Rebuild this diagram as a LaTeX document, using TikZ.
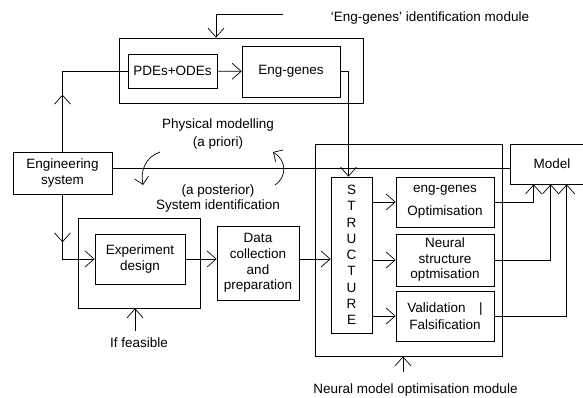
\documentclass[tikz,border=0pt]{standalone}
\usepackage{fontspec}
\setmainfont{Liberation Sans}
\usetikzlibrary{arrows.meta,calc,positioning}

\begin{document}
\begin{tikzpicture}[x=1pt,y=-1pt,
    font=\fontsize{13.5}{15.5}\selectfont,
    line width=0.7pt,
    box/.style={draw,align=center,inner sep=0pt},
    arr/.style={-{Straight Barb[length=9pt,width=16pt]}}]
    \useasboundingbox (0,0) rectangle (583,398);

    \node[box,minimum width=244pt,minimum height=65pt] (identmod) at (241,70.5) {};
    \node[box,minimum width=89pt,minimum height=34pt] (pdes) at (172.5,71) {PDEs+ODEs};
    \node[box,minimum width=98pt,minimum height=51pt] (enggenes) at (291,71.5) {Eng-genes};
    \node[box,minimum width=99pt,minimum height=42pt] (engsys) at (62.5,173) {Engineering\\system};
    \node[box,minimum width=122pt,minimum height=90pt] (expmod) at (139,263) {};
    \node[box,minimum width=90pt,minimum height=50pt] (expdesign) at (140,259) {Experiment\\design};
    \node[box,minimum width=82pt,minimum height=74pt,font=\fontsize{13.5}{15.7}\selectfont] (datacol) at (258,263) {Data\\collection\\and\\preparation};
    \node[box,minimum width=187pt,minimum height=212pt] (neuralmod) at (408.5,250) {};
    \node[box,minimum width=41pt,minimum height=156pt,font=\fontsize{13.5}{16.25}\selectfont] (structure) at (351.5,255) {S\\T\\R\\U\\C\\T\\U\\R\\E};
    \node[box,minimum width=98pt,minimum height=50pt] (egopt) at (445,202) {eng-genes\\[8pt]Optimisation};
    \node[box,minimum width=98pt,minimum height=52pt] (nsopt) at (445,260) {Neural\\structure\\optmisation};
    \node[box,minimum width=98pt,minimum height=50pt,font=\fontsize{13.5}{17}\selectfont] (valid) at (445,316) {Validation\hspace{1em}|\\Falsification};
    \node[box,minimum width=84pt,minimum height=40pt] (model) at (552,164) {Model};

    \node (identlabel) at (430,18) {`Eng-genes' identification module};
    \node[align=center,font=\fontsize{13.5}{18}\selectfont] (physlabel) at (218,134) {Physical modelling\\(a priori)};
    \node[align=center] (syslabel) at (218,198.5) {(a posterior)\\System identification};
    \node (feasible) at (139,343) {If feasible};
    \node (neurallabel) at (415.5,390) {Neural model optimisation module};
    \coordinate (topstart) at (283,14);

    \draw[arr] (topstart) -| ([xshift=-25pt]identmod.north);
    \draw (engsys.north) |- (pdes.west);
    \draw[arr] (engsys.north) -- ++(0,-57);
    \draw[arr] (pdes) -- (enggenes);
    \draw[arr] (enggenes.east) -| ([xshift=-3pt]structure.north);
    \draw ([yshift=5pt]engsys.east) -- ([yshift=5pt]engsys.east -| model.west);
    \draw[arr] (engsys.south) |- (expdesign.west);
    \draw[arr] (engsys.south) -- ++(0,48);
    \draw[arr] (expdesign.east) -- (expdesign.east -| datacol.west);
    \draw[arr] (expdesign.east -| datacol.east) -- (expdesign.east -| structure.west);
    \draw[arr] ([xshift=-4pt,yshift=3pt]feasible.north) -- ([xshift=-4pt]feasible.north |- expmod.south);
    \draw[arr] ([xshift=-12.5pt,yshift=8pt]neurallabel.north) -- ([xshift=-12.5pt]neurallabel.north |- neuralmod.south);
    \draw[arr] (structure.east |- egopt.west) -- (egopt.west);
    \draw[arr] (structure.east |- nsopt.west) -- (nsopt.west);
    \draw[arr] (structure.east |- valid.west) -- (valid.west);
    \draw[arr] (egopt.east) -| ([xshift=24pt]model.south west);
    \draw[arr] (nsopt.east) -| ([xshift=41pt]model.south west);
    \draw[arr] (valid.east) -| ([xshift=57pt]model.south west);

    \draw[-{Straight Barb[length=7pt,width=14pt]}] (160,152) .. controls (146,157) and (140,170) .. (143,185);
    \draw[-{Straight Barb[length=7pt,width=14pt]}] (275,185) .. controls (288,176) and (286,160) .. (273,152);
\end{tikzpicture}
\end{document}
